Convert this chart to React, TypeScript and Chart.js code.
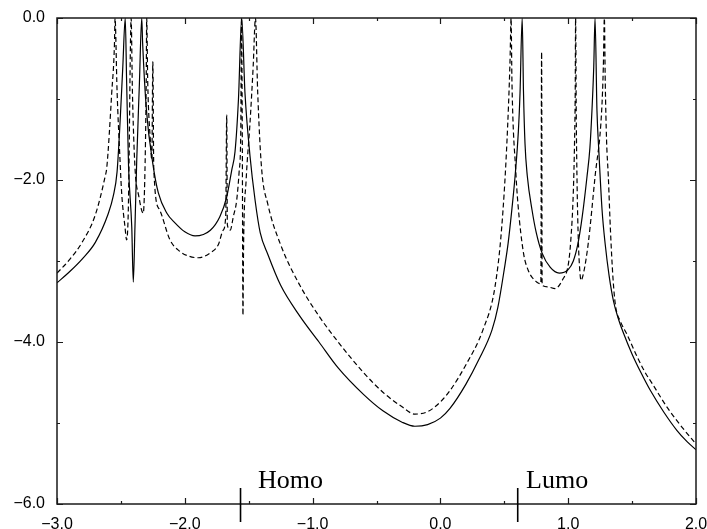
import React, { useEffect, useRef } from "react";
import { Chart, registerables } from "chart.js";

Chart.register(...registerables);

// Solid curve (energy, log value)
const solidX = [
  -3.0, -2.9, -2.8, -2.7, -2.6, -2.56, -2.53, -2.507, -2.485, -2.466,
  -2.455, -2.44, -2.415, -2.403, -2.39, -2.376, -2.355, -2.337, -2.33, -2.3,
  -2.25, -2.207, -2.14, -2.077, -2.0, -1.92, -1.8, -1.725, -1.672, -1.633,
  -1.607, -1.58, -1.555, -1.529, -1.49, -1.45, -1.41, -1.35, -1.25, -1.1,
  -0.95, -0.8, -0.6, -0.45, -0.3, -0.2, -0.1, 0.0, 0.075, 0.2,
  0.3, 0.404, 0.45, 0.5, 0.53, 0.56, 0.584, 0.61, 0.623, 0.64,
  0.65, 0.662, 0.68, 0.717, 0.75, 0.795, 0.86, 0.93, 0.998, 1.04,
  1.077, 1.11, 1.147, 1.17, 1.186, 1.2, 1.21, 1.225, 1.24, 1.265,
  1.29, 1.32, 1.355, 1.39, 1.43, 1.5, 1.57, 1.64, 1.75, 1.85,
  1.93, 2.0,
];
const solidY = [
  -3.27, -3.13, -2.97, -2.77, -2.42, -2.2, -1.9, -1.3, -0.6, 0.0,
  -0.8, -1.84, -2.58, -3.26, -2.58, -1.75, -0.8, 0.0, -0.31, -1.14,
  -1.8, -2.16, -2.41, -2.53, -2.64, -2.69, -2.62, -2.45, -2.21, -1.88,
  -1.65, -1.0, 0.0, -0.93, -1.7, -2.25, -2.65, -2.92, -3.3, -3.68,
  -4.0, -4.32, -4.65, -4.85, -4.99, -5.04, -5.02, -4.94, -4.82, -4.52,
  -4.22, -3.85, -3.57, -3.1, -2.78, -2.35, -1.96, -1.4, -0.93, 0.0,
  -0.9, -1.55, -1.95, -2.37, -2.65, -2.9, -3.08, -3.15, -3.11, -3.0,
  -2.78, -2.45, -1.96, -1.6, -1.14, -0.6, 0.0, -1.14, -1.65, -2.37,
  -2.8, -3.18, -3.5, -3.7, -3.88, -4.15, -4.38, -4.59, -4.87, -5.09,
  -5.23, -5.33,
];

// Dashed curve
const dashX = [
  -3.0, -2.9, -2.8, -2.7, -2.624, -2.61, -2.572, -2.55, -2.546, -2.53,
  -2.507, -2.494, -2.468, -2.455, -2.442, -2.436, -2.426, -2.42, -2.41, -2.39,
  -2.36, -2.325, -2.31, -2.302, -2.298, -2.29, -2.27, -2.258, -2.25, -2.243,
  -2.2, -2.116, -2.04, -1.97, -1.894, -1.8, -1.738, -1.7, -1.68, -1.672,
  -1.667, -1.645, -1.62, -1.594, -1.575, -1.562, -1.556, -1.55, -1.545, -1.54,
  -1.52, -1.49, -1.465, -1.447, -1.43, -1.4, -1.35, -1.25, -1.1, -0.95,
  -0.8, -0.6, -0.45, -0.3, -0.2, -0.1, 0.0, 0.075, 0.2, 0.333,
  0.427, 0.48, 0.52, 0.545, 0.553, 0.56, 0.59, 0.607, 0.65, 0.686,
  0.753, 0.786, 0.792, 0.796, 0.84, 0.897, 0.96, 1.0, 1.02, 1.04,
  1.05, 1.055, 1.058, 1.063, 1.07, 1.08, 1.09, 1.1, 1.12, 1.157,
  1.21, 1.262, 1.275, 1.283, 1.29, 1.3, 1.314, 1.33, 1.35, 1.37,
  1.41, 1.458, 1.53, 1.6, 1.66, 1.78, 1.9, 2.0,
];
const dashY = [
  -3.15, -2.98, -2.76, -2.43, -1.96, -1.84, -0.93, -0.3, 0.0, -0.9,
  -1.75, -2.16, -2.58, -2.74, -2.37, -1.75, -0.4, 0.0, -0.9, -1.84,
  -2.2, -2.41, -1.75, -0.8, 0.0, -0.8, -1.5, -1.75, -0.54, -1.85,
  -2.36, -2.74, -2.88, -2.94, -2.96, -2.9, -2.8, -2.62, -2.45, -1.2,
  -2.55, -2.62, -2.45, -2.25, -1.9, -1.4, 0.0, -1.5, -3.67, -2.8,
  -2.0, -1.3, -0.6, 0.0, -0.9, -1.84, -2.3, -2.8, -3.3, -3.68,
  -4.0, -4.38, -4.62, -4.8, -4.89, -4.86, -4.74, -4.6, -4.28, -3.85,
  -3.32, -2.58, -1.55, -0.52, 0.0, -0.8, -1.9, -2.3, -2.9, -3.11,
  -3.26, -3.28, -0.42, -3.3, -3.32, -3.34, -3.22, -3.05, -2.75, -2.15,
  -1.5, -0.9, 0.0, -1.2, -2.1, -2.78, -3.1, -3.24, -3.15, -2.78,
  -1.96, -1.14, -0.6, 0.0, -0.8, -1.5, -1.96, -2.6, -3.2, -3.55,
  -3.75, -3.9, -4.15, -4.37, -4.52, -4.82, -5.07, -5.26,
];

// Axis ranges and ticks
const xMin = -3.0;
const xMax = 2.0;
const xMinorStep = 0.5;
const yMin = -6.0;
const yMax = 0.0;
const yMinorStep = 1.0;
const yLabelEvery = 2;

// Level markers
const markerNames = ["Homo", "Lumo"];
const markerX = [-1.564, 0.605];
const markerLabelX = [-1.427, 0.67];

function fmt(v: number): string {
  const s = Math.abs(v).toFixed(1);
  return v < -1e-9 ? "\u2212" + s : s;
}

const framePlugin = {
  id: "frameTicks",
  afterDatasetsDraw(chart: any) {
    const { ctx, chartArea: a, scales } = chart;
    const xs = scales.x;
    const ys = scales.y;
    ctx.save();
    ctx.strokeStyle = "#1a1a1a";
    ctx.lineWidth = 1.5;
    ctx.strokeRect(a.left, a.top, a.right - a.left, a.bottom - a.top);
    ctx.lineWidth = 1.2;
    ctx.beginPath();
    xs.ticks.forEach((t: any) => {
      const v = t.value;
      const major = Math.abs(v - Math.round(v)) < 1e-6;
      const len = major ? 6 : 3;
      const px = Math.round(xs.getPixelForValue(v)) + 0.5;
      ctx.moveTo(px, a.bottom);
      ctx.lineTo(px, a.bottom - len);
      ctx.moveTo(px, a.top);
      ctx.lineTo(px, a.top + len);
    });
    ys.ticks.forEach((t: any) => {
      const v = t.value;
      const r = Math.round(v);
      const major = Math.abs(v - r) < 1e-6 && r % yLabelEvery === 0;
      const len = major ? 6 : 3;
      const py = Math.round(ys.getPixelForValue(v)) + 0.5;
      ctx.moveTo(a.left, py);
      ctx.lineTo(a.left + len, py);
      ctx.moveTo(a.right, py);
      ctx.lineTo(a.right - len, py);
    });
    ctx.stroke();

    // Homo / Lumo markers
    ctx.lineWidth = 1.6;
    ctx.strokeStyle = "#000";
    ctx.fillStyle = "#000";
    ctx.font = '26px "Liberation Serif", "Times New Roman", serif';
    ctx.textBaseline = "alphabetic";
    ctx.textAlign = "left";
    markerNames.forEach((name, i) => {
      const px = xs.getPixelForValue(markerX[i]);
      ctx.beginPath();
      ctx.moveTo(px, a.bottom - 16);
      ctx.lineTo(px, a.bottom + 18);
      ctx.stroke();
      ctx.fillText(name, xs.getPixelForValue(markerLabelX[i]), a.bottom - 16);
    });
    ctx.restore();
  },
};

export default function App() {
  const ref = useRef<HTMLCanvasElement | null>(null);

  useEffect(() => {
    if (!ref.current) return;
    const tickFont = { family: '"Liberation Sans", Arial, sans-serif', size: 16 };
    const line = {
      showLine: true,
      borderColor: "#000",
      borderWidth: 1.2,
      pointRadius: 0,
      cubicInterpolationMode: "monotone" as const,
      fill: false,
    };
    const chart = new Chart(ref.current, {
      type: "scatter",
      data: {
        datasets: [
          { ...line, data: solidX.map((x, i) => ({ x, y: solidY[i] })) },
          { ...line, borderDash: [5, 3], data: dashX.map((x, i) => ({ x, y: dashY[i] })) },
        ],
      },
      options: {
        responsive: false,
        animation: false,
        devicePixelRatio: 1,
        layout: { padding: { left: 0, top: 18, right: 11, bottom: 0 } },
        plugins: { legend: { display: false }, tooltip: { enabled: false } },
        scales: {
          x: {
            type: "linear",
            min: xMin,
            max: xMax,
            grid: { display: false, drawTicks: false, tickLength: 0 },
            border: { display: false },
            ticks: {
              stepSize: xMinorStep,
              autoSkip: false,
              maxRotation: 0,
              padding: 11,
              color: "#000",
              font: tickFont,
              callback: (v: any) => {
                const n = Number(v);
                return Math.abs(n - Math.round(n)) < 1e-6 ? fmt(n) : "";
              },
            },
            afterFit: (s: any) => {
              s.height = 25;
              s.paddingLeft = 0;
              s.paddingRight = 0;
              s.paddingTop = 0;
              s.paddingBottom = 0;
            },
          },
          y: {
            type: "linear",
            min: yMin,
            max: yMax,
            grid: { display: false, drawTicks: false, tickLength: 0 },
            border: { display: false },
            ticks: {
              stepSize: yMinorStep,
              autoSkip: false,
              padding: 12,
              color: "#000",
              font: tickFont,
              callback: (v: any) => {
                const n = Number(v);
                const r = Math.round(n);
                return Math.abs(n - r) < 1e-6 && r % yLabelEvery === 0 ? fmt(n) : "";
              },
            },
            afterFit: (s: any) => {
              s.width = 57;
              s.paddingLeft = 0;
              s.paddingRight = 0;
              s.paddingTop = 0;
              s.paddingBottom = 0;
            },
          },
        },
      },
      plugins: [framePlugin],
    });
    return () => chart.destroy();
  }, []);

  return (
    <div style={{ position: "absolute", left: 0, top: 0, width: 707, height: 529, background: "#fff" }}>
      <canvas ref={ref} width={707} height={529} style={{ display: "block" }} />
    </div>
  );
}
